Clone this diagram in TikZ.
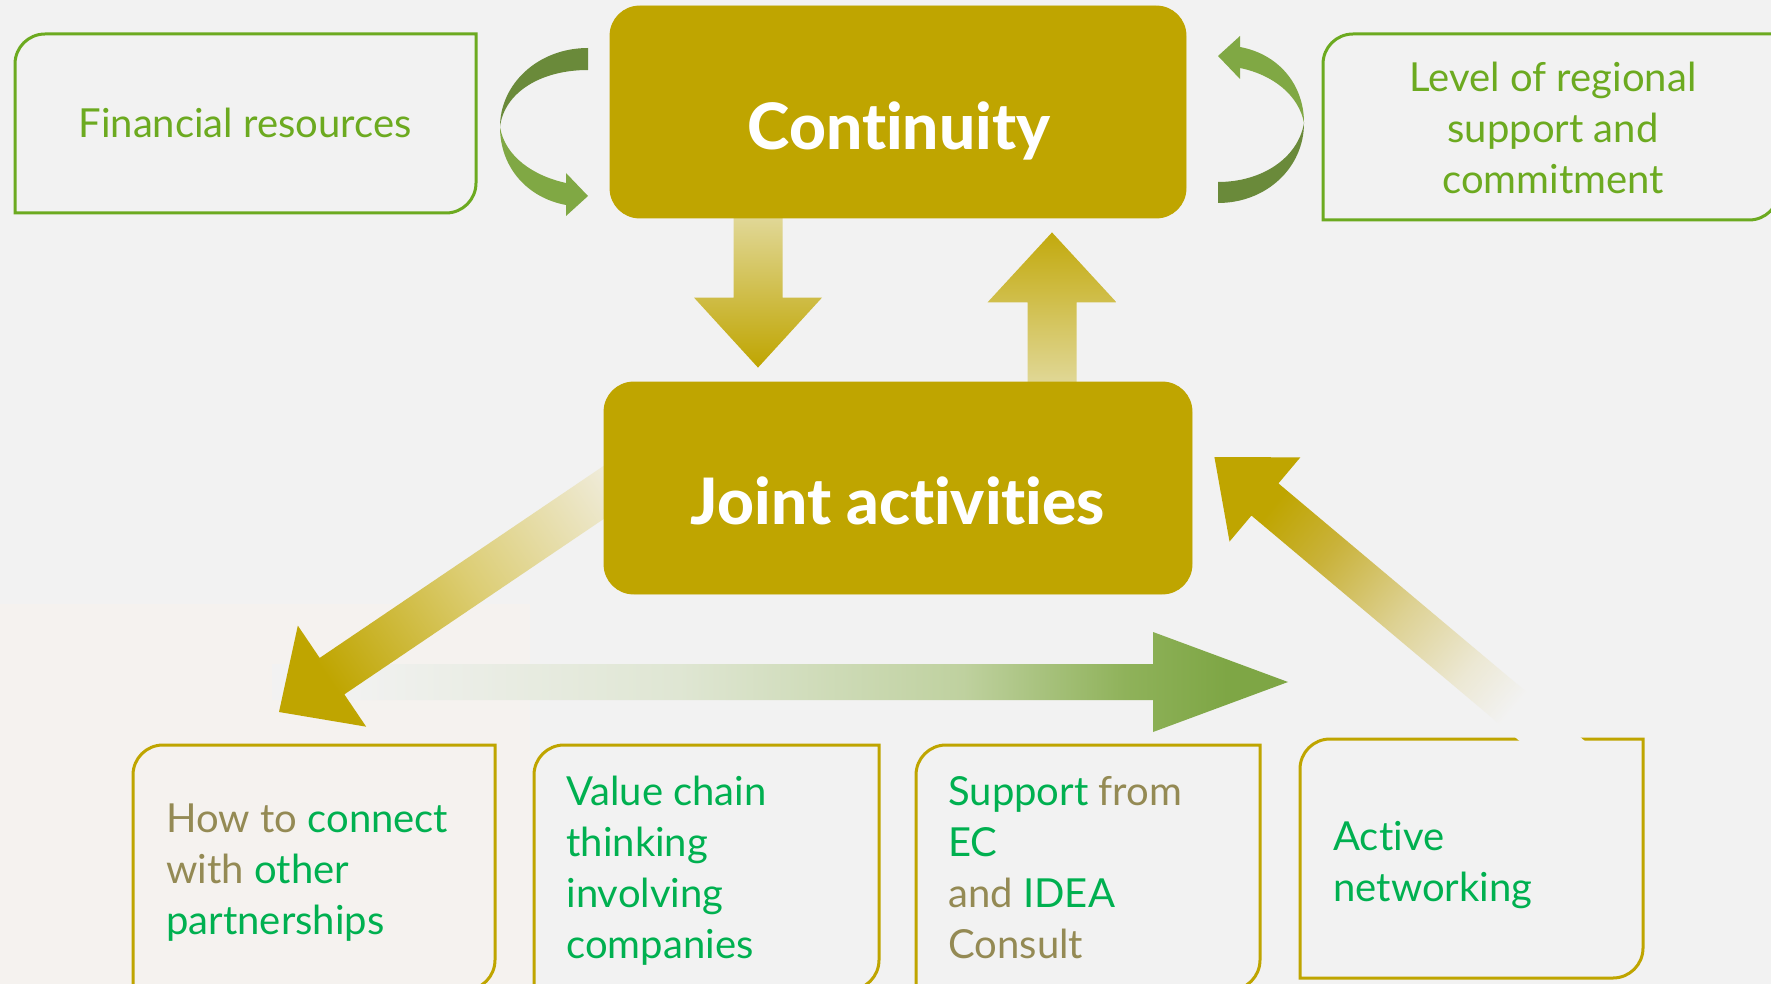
\documentclass[tikz,border=0pt]{standalone}
\usepackage{fontspec}
\setmainfont{Lato}[Ligatures=NoCommon]
\newfontfamily\heavyfont{Lato Heavy}[Ligatures=NoCommon]
\usetikzlibrary{calc}
\definecolor{bg}{HTML}{F2F2F2}
\definecolor{warm}{HTML}{F5F2EF}
\definecolor{gold}{HTML}{BFA500}
\definecolor{boxgreen}{HTML}{6CAA20}
\definecolor{txtgreen}{HTML}{00B050}
\definecolor{txtbrown}{HTML}{948A54}
\definecolor{leafdark}{HTML}{6A8A3A}
\definecolor{leaflight}{HTML}{80A844}
\definecolor{goldlight}{HTML}{E2DA9E}
\definecolor{goldfade}{HTML}{EFEBD8}
\definecolor{greenfade}{HTML}{EEF0EA}
\definecolor{arrowgreen}{HTML}{7EA645}
\definecolor{goldmid}{HTML}{DCCD73}
\definecolor{gA}{HTML}{DFE6D3}
\definecolor{gB}{HTML}{BFD19F}
\definecolor{gC}{HTML}{8FB25A}
\definecolor{uA}{HTML}{C9B23A}
\definecolor{uB}{HTML}{DDD192}
\definecolor{uC}{HTML}{ECE8D4}

\pgfdeclarehorizontalshading{shH}{100bp}{color(0bp)=(bg); color(28bp)=(bg); color(45bp)=(gA);
  color(59bp)=(gB); color(67bp)=(gC); color(72bp)=(arrowgreen); color(100bp)=(arrowgreen)}
\pgfdeclareverticalshading{shUL}{100bp}{color(0bp)=(gold); color(25bp)=(gold); color(35bp)=(uA);
  color(48bp)=(uB); color(60bp)=(uC); color(68bp)=(bg); color(100bp)=(bg)}

% fat block arrow: #1 start, #2 tip, #3 shaft half width, #4 head half width, #5 head length, #6 shading options
\newcommand\fatarrow[6]{%
  \coordinate (fab) at ($(#2)!#5!(#1)$);
  \shade[#6] ($(#1)!#3!90:(#2)$) -- ($(fab)!#3!90:(#2)$) -- ($(fab)!#4!90:(#2)$) -- (#2)
     -- ($(fab)!#4!-90:(#2)$) -- ($(fab)!#3!-90:(#2)$) -- ($(#1)!#3!-90:(#2)$) -- cycle;}

% frame with rounded top-left and bottom-right corners: #1 options, #2 x1, #3 y1, #4 x2, #5 y2
\newcommand\tlbrbox[5]{%
  \draw[#1] (#2,#5) -- (#2,#3+30) .. controls (#2,#3+13.4) and (#2+13.4,#3) .. (#2+30,#3)
     -- (#4,#3) -- (#4,#5-30) .. controls (#4,#5-13.4) and (#4-13.4,#5) .. (#4-30,#5) -- cycle;}

\begin{document}
\begin{tikzpicture}[x=0.5pt,y=-0.5pt,
  txt/.style={inner sep=0pt, font=\fontsize{20}{25.5}\selectfont},
  big/.style={inner sep=0pt, text=white, font=\heavyfont\fontsize{32}{36}\selectfont},
  mainbox/.style={fill=gold, rounded corners=15pt, inner sep=0pt},
  greenframe/.style={draw=boxgreen, line width=1.5pt},
  goldframe/.style={draw=gold, line width=1.5pt},
]
\useasboundingbox (0,0) rectangle (1771,984);
\fill[bg] (0,0) rectangle (1771,984);
\fill[warm] (0,604) rectangle (530,984);

% frames
\tlbrbox{greenframe}{15}{34}{476}{213}
\tlbrbox{greenframe}{1323}{34}{1779}{220}
\tlbrbox{goldframe}{133}{745}{495}{990}
\tlbrbox{goldframe}{534}{745}{879}{990}
\tlbrbox{goldframe}{916}{745}{1260}{990}
\tlbrbox{goldframe}{1300}{739}{1643}{978}

% texts in frames
\node[txt, text=boxgreen, anchor=base] (fin) at (245,138) {Financial resources};
\node[txt, text=boxgreen, align=center, anchor=north] (level) at (1553,62) {Level of regional\\support and\\commitment};
\node[txt, anchor=north west, align=left] (howto) at (166,803)
  {\textcolor{txtbrown}{How to} \textcolor{txtgreen}{connect}\\\textcolor{txtbrown}{with} \textcolor{txtgreen}{other}\\\textcolor{txtgreen}{partnerships}};
\node[txt, text=txtgreen, anchor=north west, align=left] (value) at (566,776)
  {Value chain\\thinking\\involving\\companies};
\node[txt, anchor=north west, align=left] (support) at (948,776)
  {\textcolor{txtgreen}{Support} \textcolor{txtbrown}{from}\\\textcolor{txtgreen}{EC}\\\textcolor{txtbrown}{and} \textcolor{txtgreen}{IDEA}\\\textcolor{txtbrown}{Consult}};
\node[txt, text=txtgreen, anchor=north west, align=left] (active) at (1333,821)
  {Active\\networking};

% curved arrows, left
\fill[leafdark] (588,48) .. controls (538,48) and (500,84) .. (500,127)
   .. controls (504,93) and (540,70) .. (588,70) -- cycle;
\fill[leaflight] (500,127) .. controls (500,168) and (528,198) .. (566,205) -- (566,216) -- (588,196)
   -- (566,173) -- (566,183) .. controls (534,176) and (505,157) .. (500,127) -- cycle;
% curved arrows, right
\fill[leaflight] (1240,47) .. controls (1278,54) and (1304,84) .. (1304,123)
   .. controls (1299,96) and (1274,75) .. (1240,68) -- (1240,79) -- (1218,56) -- (1240,36) -- cycle;
\fill[leafdark] (1304,123) .. controls (1304,168) and (1266,203) .. (1218,203) -- (1218,182)
   .. controls (1262,182) and (1298,158) .. (1304,123) -- cycle;

% main boxes (placed first for anchors)
\node[mainbox, minimum width=288pt, minimum height=106pt] (cont) at (898,112) {};
\node[mainbox, minimum width=294pt, minimum height=106pt] (joint) at (898,488) {};

% arrow end points
\coordinate (dS) at ($(cont.south)+(-140,-8)$);
\coordinate (dT) at ($(joint.north)+(-140,-14)$);
\coordinate (uS) at ($(joint.north)+(154,10)$);
\coordinate (uT) at ($(cont.south)+(154,14)$);
\coordinate (hS) at ($(howto.north west)+(106,-121)$);
\coordinate (hT) at ($(support.north west)+(340,-94)$);
\coordinate (dlS) at ($(joint.west)+(48,-28)$);
\coordinate (dlT) at ($(howto.north west)+(113,-91)$);
\coordinate (ulS) at ($(active.north west)+(262,-44)$);
\coordinate (ulT) at ($(joint.east)+(22,-31)$);

\fatarrow{dS}{dT}{12.25pt}{32pt}{35pt}{top color=goldlight, bottom color=gold}
\fatarrow{uS}{uT}{12.25pt}{32.25pt}{35pt}{top color=gold!95!white, bottom color=goldlight}
\fatarrow{hS}{hT}{9pt}{25pt}{67.5pt}{shading=shH}
\fatarrow{dlS}{dlT}{11pt}{30.5pt}{32pt}{top color=goldfade, bottom color=gold, middle color=goldmid, shading angle=-56}

% main boxes drawn again on top of arrow tails
\fill[gold, rounded corners=15pt] (cont.north west) rectangle (cont.south east);
\fill[gold, rounded corners=15pt] (joint.north west) rectangle (joint.south east);
\node[big, anchor=base] (contT) at (899,150) {Continuity};
\node[big, anchor=base] (jointT) at (898,524) {Joint activities};

\fatarrow{ulS}{ulT}{10.5pt}{27.5pt}{33pt}{shading=shUL, shading angle=-129.8}
\end{tikzpicture}
\end{document}
